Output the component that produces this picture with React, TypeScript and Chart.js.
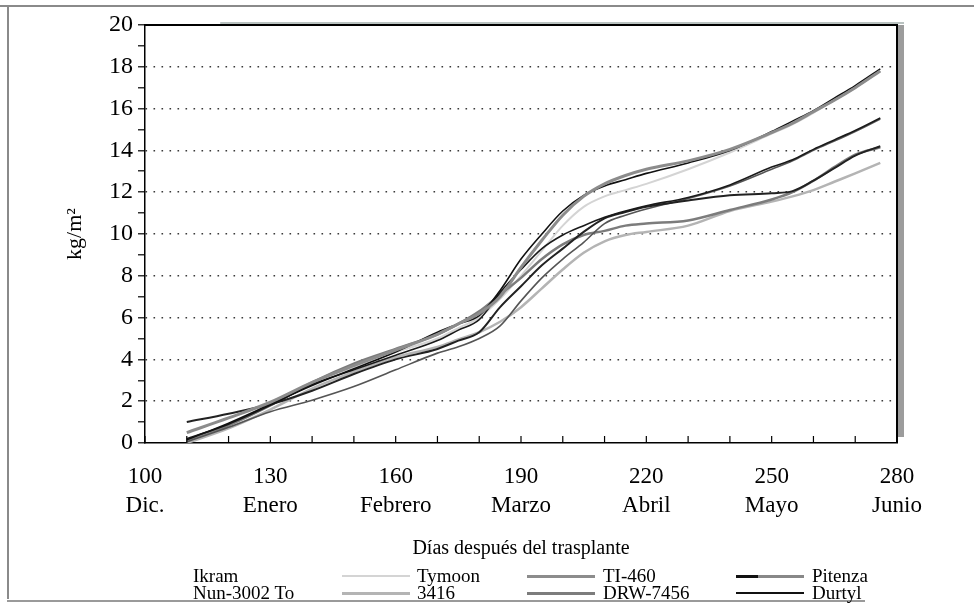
import React, { useEffect, useRef } from "react";
import { Chart, registerables } from "chart.js";
Chart.register(...registerables);

// Days after transplant (x values)
const days = [110, 120, 130, 140, 150, 160, 170, 175, 180, 185, 190, 195, 200, 205, 210, 215, 220, 230, 240, 250, 255, 260, 265, 270, 276];

// Yield series, kg/m2
const durtyl = [0.15, 0.95, 1.85, 2.75, 3.55, 4.35, 5.3, 5.7, 6.1, 7.3, 8.8, 10.0, 11.1, 11.85, 12.3, 12.6, 12.9, 13.4, 14.0, 14.9, 15.4, 15.9, 16.5, 17.1, 17.9];
const ti460 = [0.5, 1.2, 1.95, 2.9, 3.7, 4.45, 5.2, 5.7, 6.2, 7.0, 8.4, 9.7, 10.9, 11.8, 12.4, 12.8, 13.1, 13.5, 14.05, 14.85, 15.3, 15.85, 16.4, 17.0, 17.8];
const tymoon = [0.1, 0.8, 1.8, 2.85, 3.65, 4.35, 5.0, 5.5, 6.0, 6.9, 8.0, 9.2, 10.4, 11.3, 11.8, 12.1, 12.4, 13.1, 13.9, 14.8, 15.25, 15.8, 16.4, 17.0, 17.8];
const ikram = [0.2, 0.9, 1.8, 2.8, 3.5, 4.2, 4.9, 5.4, 5.9, 7.2, 8.3, 9.3, 9.95, 10.4, 10.8, 11.1, 11.35, 11.75, 12.35, 13.2, 13.55, 14.05, 14.5, 14.95, 15.55];
const pitenza = [1.0, 1.4, 1.85, 2.5, 3.3, 4.0, 4.5, 4.9, 5.3, 6.5, 7.5, 8.5, 9.3, 10.1, 10.75, 11.05, 11.3, 11.6, 11.85, 11.95, 12.05, 12.55, 13.15, 13.75, 14.2];
const nun3002 = [0.05, 0.75, 1.5, 2.05, 2.7, 3.5, 4.3, 4.6, 5.0, 5.6, 6.8, 7.9, 8.8, 9.6, 10.5, 10.9, 11.2, 11.7, 12.3, 13.1, 13.5, 14.0, 14.45, 14.9, 15.5];
const drw7456 = [0.1, 0.85, 1.8, 2.9, 3.8, 4.5, 5.2, 5.7, 6.3, 7.1, 7.9, 8.8, 9.5, 9.95, 10.15, 10.4, 10.5, 10.65, 11.15, 11.65, 12.0, 12.55, 13.2, 13.8, 14.15];
const s3416 = [0.0, 0.7, 1.6, 2.6, 3.4, 4.1, 4.6, 4.95, 5.3, 5.8, 6.5, 7.4, 8.3, 9.1, 9.65, 9.95, 10.1, 10.4, 11.1, 11.55, 11.8, 12.1, 12.5, 12.9, 13.4];

// Axis tick labels
const xTickValues = [100, 130, 160, 190, 220, 250, 280];
const monthLabels = ["Dic.", "Enero", "Febrero", "Marzo", "Abril", "Mayo", "Junio"];
const xTitle = "Días después del trasplante";
const yTitle = "kg/m²";

// Legend layout (label text per row/column)
const legendRow1 = ["Ikram", "Tymoon", "TI-460", "Pitenza"];
const legendRow2 = ["Nun-3002 To", "3416", "DRW-7456", "Durtyl"];

const SERIF = "'Liberation Serif', 'DejaVu Serif', serif";

const seriesDefs = [
  { label: "3416", data: s3416, color: "#b4b4b4", width: 2.5, order: 8 },
  { label: "Tymoon", data: tymoon, color: "#d4d4d4", width: 2, order: 7 },
  { label: "DRW-7456", data: drw7456, color: "#7c7c7c", width: 2.5, order: 6 },
  { label: "Nun-3002 To", data: nun3002, color: "#555555", width: 1.6, order: 5 },
  { label: "Pitenza", data: pitenza, color: "#222222", width: 2, order: 4 },
  { label: "Ikram", data: ikram, color: "#1a1a1a", width: 1.6, order: 3 },
  { label: "Durtyl", data: durtyl, color: "#111111", width: 1.6, order: 2 },
  { label: "TI-460", data: ti460, color: "#8c8c8c", width: 3, order: 1 },
];

const framePlugin = {
  id: "frame",
  afterDraw(chart: any) {
    const { ctx, chartArea, scales } = chart;
    const { left, right, top, bottom } = chartArea;
    const x = scales.x;
    ctx.save();
    ctx.fillStyle = "#9c9c9c";
    ctx.fillRect(right + 1, top, 6, bottom - top - 6);
    ctx.fillStyle = "#b9c2c0";
    ctx.fillRect(left + (right - left) * 0.1, top - 3, (right - left) * 0.9 + 7, 2);
    ctx.strokeStyle = "#000";
    ctx.lineWidth = 2;
    ctx.beginPath();
    ctx.moveTo(left, top);
    ctx.lineTo(right, top);
    ctx.lineTo(right, bottom);
    ctx.stroke();
    ctx.lineWidth = 1.2;
    for (let v = x.min; v <= x.max; v += 10) {
      const px = x.getPixelForValue(v);
      ctx.beginPath();
      ctx.moveTo(px, bottom);
      ctx.lineTo(px, bottom - 7);
      ctx.stroke();
    }
    ctx.restore();
  },
};

function LegendSample({ kind }: { kind: string }) {
  if (kind === "pitenza") {
    return (
      <div style={{ position: "absolute", width: 68, height: 3 }}>
        <div style={{ position: "absolute", left: 0, width: 22, height: 3, background: "#111" }} />
        <div style={{ position: "absolute", left: 22, width: 46, height: 3, background: "#888" }} />
      </div>
    );
  }
  const map: Record<string, [string, number]> = {
    tymoon: ["#d4d4d4", 2],
    ti460: ["#8c8c8c", 3],
    s3416: ["#b4b4b4", 2.5],
    drw: ["#7c7c7c", 3],
    durtyl: ["#111", 2],
  };
  const [c, w] = map[kind];
  return <div style={{ position: "absolute", width: 68, height: w, background: c }} />;
}

export default function App() {
  const canvasRef = useRef<HTMLCanvasElement | null>(null);

  useEffect(() => {
    const canvas = canvasRef.current;
    if (!canvas) return;
    const chart = new Chart(canvas, {
      type: "line",
      data: {
        datasets: seriesDefs.map((s) => ({
          label: s.label,
          data: days.map((d, i) => ({ x: d, y: s.data[i] })),
          borderColor: s.color,
          backgroundColor: s.color,
          borderWidth: s.width,
          pointRadius: 0,
          fill: false,
          cubicInterpolationMode: "monotone" as const,
          order: s.order,
        })),
      },
      options: {
        animation: false,
        responsive: false,
        devicePixelRatio: 1,
        layout: { padding: { left: 58, top: 25, right: 77, bottom: 46 } },
        plugins: {
          legend: { display: false },
          tooltip: { enabled: false },
        },
        scales: {
          x: {
            type: "linear",
            min: 100,
            max: 280,
            afterFit: (scale: any) => {
              scale.height = 122;
            },
            afterBuildTicks: (scale: any) => {
              const t = [];
              for (let v = 100; v <= 280; v += 10) t.push({ value: v });
              scale.ticks = t;
            },
            grid: { display: false },
            border: { display: true, color: "#000", width: 1.5 },
            ticks: {
              autoSkip: false,
              maxRotation: 0,
              padding: 11,
              color: "#000",
              font: { family: SERIF, size: 23, lineHeight: 1.26 },
              callback: (v: any) => {
                const idx = xTickValues.indexOf(Number(v));
                return idx >= 0 ? [String(xTickValues[idx]), monthLabels[idx]] : "";
              },
            },
            title: {
              display: true,
              text: xTitle,
              color: "#000",
              font: { family: SERIF, size: 20, lineHeight: 1.2 },
              padding: { top: 4, bottom: 4 },
            },
          },
          y: {
            min: 0,
            max: 20,
            afterFit: (scale: any) => {
              scale.width = 87;
            },
            afterBuildTicks: (scale: any) => {
              const t = [];
              for (let v = 0; v <= 20; v += 1) t.push({ value: v });
              scale.ticks = t;
            },
            grid: {
              drawOnChartArea: true,
              drawTicks: true,
              tickLength: 7,
              tickColor: "#000",
              tickWidth: 1.2,
              lineWidth: 1.6,
              color: (ctx: any) => {
                const v = ctx.tick ? ctx.tick.value : 0;
                return v > 0 && v < 20 && v % 2 === 0 ? "#3a3a3a" : "rgba(0,0,0,0)";
              },
            },
            border: { display: true, color: "#000", width: 1.5, dash: [1.6, 6.4] },
            ticks: {
              autoSkip: false,
              padding: 5,
              color: "#000",
              font: { family: SERIF, size: 24 },
              callback: (v: any) => (Number(v) % 2 === 0 ? String(v) : ""),
            },
            title: {
              display: true,
              text: yTitle,
              color: "#000",
              font: { family: SERIF, size: 22, lineHeight: 1.2 },
              padding: { top: 4, bottom: 4 },
            },
          },
        },
      },
      plugins: [framePlugin],
    });
    return () => chart.destroy();
  }, []);

  const labelStyle = (left: number, cy: number): React.CSSProperties => ({
    position: "absolute",
    left,
    top: cy - 11,
    height: 22,
    lineHeight: "22px",
    fontFamily: SERIF,
    fontSize: 19,
    color: "#000",
    whiteSpace: "nowrap",
  });
  const cols = [193, 417, 603, 812];
  const samples = [null, 342, 527, 736];
  const row1Samples = [null, "tymoon", "ti460", "pitenza"];
  const row2Samples = [null, "s3416", "drw", "durtyl"];
  const rowY = [576, 593];

  return (
    <div style={{ position: "fixed", left: 0, top: 0, width: 974, height: 611, background: "#fff", overflow: "hidden" }}>
      <div style={{ position: "absolute", left: 0, top: 5, width: 974, height: 1.5, background: "#8a8a8a" }} />
      <div style={{ position: "absolute", left: 7, top: 5, width: 1.5, height: 594, background: "#8a8a8a" }} />
      <div style={{ position: "absolute", left: 7, top: 600, width: 858, height: 1.5, background: "#9a9a9a" }} />
      <canvas ref={canvasRef} width={974} height={611} style={{ position: "absolute", left: 0, top: 0, width: 974, height: 611 }} />
      {[legendRow1, legendRow2].map((row, r) =>
        row.map((lab, c) => (
          <React.Fragment key={`${r}-${c}`}>
            {samples[c] !== null && (
              <div style={{ position: "absolute", left: samples[c] as number, top: rowY[r] - 1 }}>
                <LegendSample kind={(r === 0 ? row1Samples : row2Samples)[c] as string} />
              </div>
            )}
            <div style={labelStyle(cols[c], rowY[r])}>{lab}</div>
          </React.Fragment>
        ))
      )}
    </div>
  );
}
